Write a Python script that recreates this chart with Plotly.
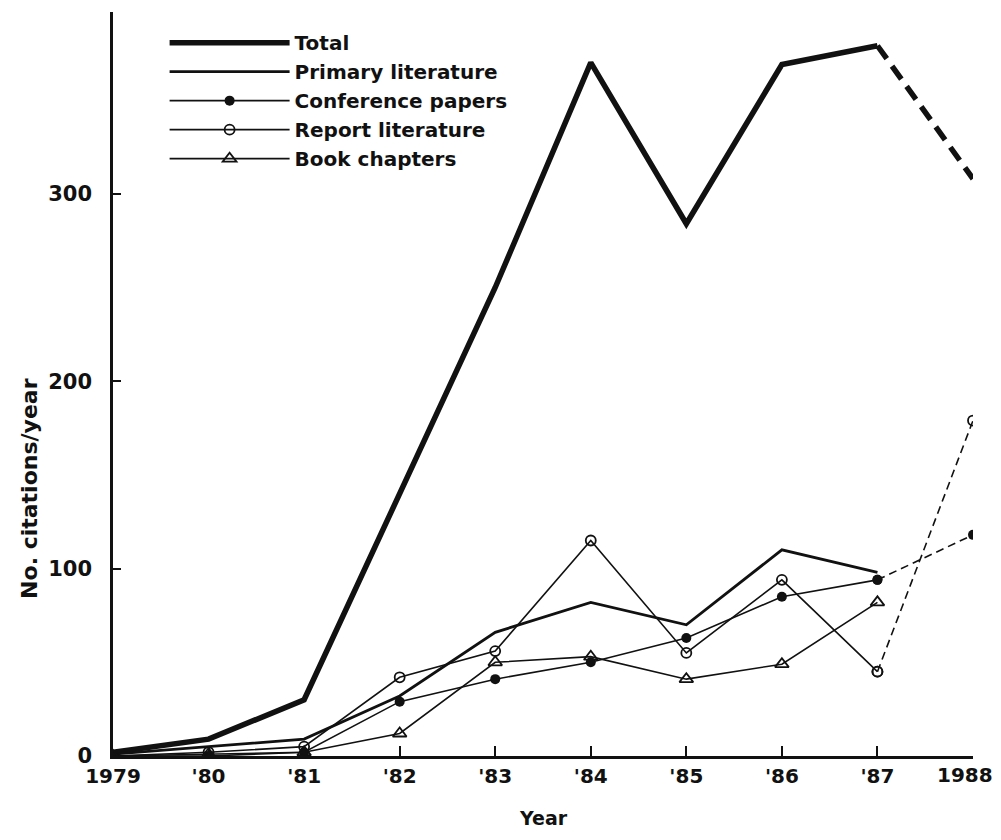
import plotly.graph_objects as go

years = [1979, 1980, 1981, 1982, 1983, 1984, 1985, 1986, 1987]
year_1988 = [1987, 1988]

total = [2, 9, 30, 140, 250, 370, 284, 369, 379]
total_1988 = [379, 308]

primary = [1, 5, 9, 32, 66, 82, 70, 110, 98]

conference = [0, 0, 2, 29, 41, 50, 63, 85, 94]
conference_1988 = [94, 118]

report = [0, 2, 5, 42, 56, 115, 55, 94, 45]
report_1988 = [45, 179]

book = [0, 1, 2, 12, 50, 53, 41, 49, 82]

tick_vals = [1979, 1980, 1981, 1982, 1983, 1984, 1985, 1986, 1987, 1988]
tick_text = ["1979", "'80", "'81", "'82", "'83", "'84", "'85", "'86", "'87", ""]
last_tick_label = "1988"

FONT = "DejaVu Sans"
BLACK = "#111111"

fig = go.Figure()

fig.add_trace(go.Scatter(x=years, y=total, mode="lines", name="Total",
                         line=dict(color=BLACK, width=5.5)))
fig.add_trace(go.Scatter(x=years, y=primary, mode="lines", name="Primary literature",
                         line=dict(color=BLACK, width=2.8)))
fig.add_trace(go.Scatter(x=years, y=conference, mode="lines+markers", name="Conference papers",
                         line=dict(color=BLACK, width=1.6),
                         marker=dict(symbol="circle", size=10, color=BLACK)))
fig.add_trace(go.Scatter(x=years, y=report, mode="lines+markers", name="Report literature",
                         line=dict(color=BLACK, width=1.6),
                         marker=dict(symbol="circle-open", size=10, color=BLACK,
                                     line=dict(width=1.8, color=BLACK))))
fig.add_trace(go.Scatter(x=years, y=book, mode="lines+markers", name="Book chapters",
                         line=dict(color=BLACK, width=1.6),
                         marker=dict(symbol="triangle-up-open", size=12, color=BLACK,
                                     line=dict(width=1.8, color=BLACK))))

# projected 1988 segments (dashed)
fig.add_trace(go.Scatter(x=year_1988, y=total_1988, mode="lines", showlegend=False,
                         line=dict(color=BLACK, width=5.5, dash="16px,9px")))
fig.add_trace(go.Scatter(x=year_1988, y=conference_1988, mode="lines+markers", showlegend=False,
                         line=dict(color=BLACK, width=1.6, dash="8px,5px"),
                         marker=dict(symbol="circle", size=10, color=BLACK)))
fig.add_trace(go.Scatter(x=year_1988, y=report_1988, mode="lines+markers", showlegend=False,
                         line=dict(color=BLACK, width=1.6, dash="8px,5px"),
                         marker=dict(symbol="circle-open", size=10, color=BLACK,
                                     line=dict(width=1.8, color=BLACK))))

fig.update_layout(
    width=985, height=824,
    paper_bgcolor="white", plot_bgcolor="white",
    margin=dict(l=105, r=20, t=4, b=76, autoexpand=False),
    font=dict(family=FONT, size=20, color=BLACK),
    showlegend=True,
    legend=dict(x=0.06, y=0.985, xanchor="left", yanchor="top",
                bgcolor="rgba(0,0,0,0)", font=dict(family=FONT, size=20, weight="bold"),
                itemwidth=120, tracegroupgap=0),
    annotations=[
        dict(text="No. citations/year", textangle=-90, xref="paper", yref="paper",
             x=-0.098, y=0.36, xanchor="center", yanchor="middle", showarrow=False,
             font=dict(family=FONT, size=22, weight="bold")),
        dict(text="Year", xref="paper", yref="paper", x=0.5, y=-0.083,
             xanchor="center", yanchor="middle", showarrow=False,
             font=dict(family=FONT, size=19, weight="bold")),
        dict(text=last_tick_label, xref="x", yref="paper", x=tick_vals[-1], y=-0.026,
             xanchor="center", yanchor="middle", xshift=-8, showarrow=False,
             font=dict(family=FONT, size=20, weight="bold")),
    ],
)
fig.update_xaxes(
    range=[1979, 1988], tickvals=tick_vals, ticktext=tick_text, automargin=False,
    ticklabeloverflow="allow",
    showline=True, linecolor=BLACK, linewidth=2.5, mirror=False,
    ticks="inside", ticklen=10, tickwidth=2, tickcolor=BLACK,
    showgrid=False, zeroline=False,
    tickfont=dict(family=FONT, size=20, weight="bold"),
)
fig.update_yaxes(
    range=[0, 397], tickvals=[0, 100, 200, 300], ticktext=["0", "100", "200", "300"],
    automargin=False, ticklabelstandoff=14,
    showline=True, linecolor=BLACK, linewidth=2.5,
    ticks="inside", ticklen=8, tickwidth=2, tickcolor=BLACK,
    showgrid=False, zeroline=False,
    tickfont=dict(family=FONT, size=21, weight="bold"),
)

fig.write_html("out.html")
